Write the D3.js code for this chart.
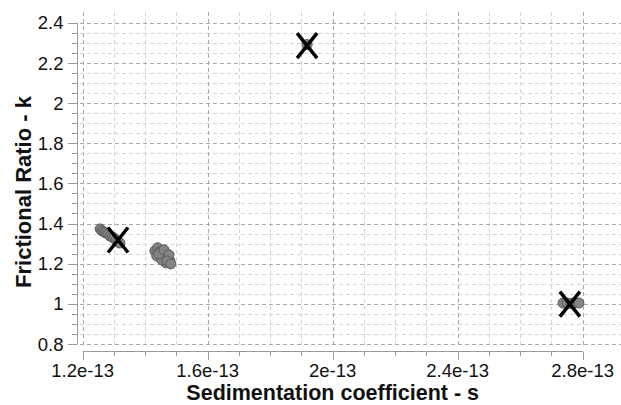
<!DOCTYPE html>
<html><head><meta charset="utf-8">
<script src="https://cdn.jsdelivr.net/npm/d3@7"></script>
<style>body{margin:0;background:#fff;} svg{display:block;}</style>
</head><body>
<script>
// Data (s in 1e-13 units, k = frictional ratio)
const pointS = [1.256,1.262,1.268,1.274,1.281,1.287,1.294,1.300,1.307,1.313,1.319,
                1.431,1.440,1.447,1.437,1.453,1.463,1.472,1.479,1.466,1.453,1.444,1.460,1.476,1.470,1.482,
                1.918,
                2.737,2.750,2.762,2.775,2.788];
const pointK = [1.373,1.363,1.358,1.353,1.348,1.338,1.333,1.328,1.318,1.308,1.303,
                1.264,1.279,1.259,1.239,1.239,1.249,1.229,1.214,1.204,1.219,1.249,1.269,1.244,1.214,1.199,
                2.291,
                1.004,1.004,1.002,1.006,1.004];
const markerS = [1.313, 1.918, 2.759];
const markerK = [1.318, 2.286, 0.999];
const xTicks = [1.2e-13, 1.6e-13, 2.0e-13, 2.4e-13, 2.8e-13];
const xTickLabels = ["1.2e-13","1.6e-13","2e-13","2.4e-13","2.8e-13"];
const yTicks = [0.8, 1.0, 1.2, 1.4, 1.6, 1.8, 2.0, 2.2, 2.4];
const yTickLabels = ["0.8","1","1.2","1.4","1.6","1.8","2","2.2","2.4"];
const xTitle = "Sedimentation coefficient - s";
const yTitle = "Frictional Ratio - k";

const W = 621, H = 405;
const svg = d3.select("body").append("svg").attr("width", W).attr("height", H);

const x = d3.scaleLinear().domain([1.2e-13, 2.8e-13]).range([82.7, 582.7]);
const y = d3.scaleLinear().domain([0.8, 2.4]).range([344, 22.7]);

const xMinor = d3.range(0, 17).map(i => 1.2e-13 + i * 0.1e-13).filter(v => !xTicks.some(t => Math.abs(t - v) < 1e-16));
const yMinor = d3.range(0, 33).map(i => +(0.8 + i * 0.05).toFixed(2)).filter(v => !yTicks.some(t => Math.abs(t - v) < 1e-6));

const grid = svg.append("g");
grid.selectAll(".hm").data(yMinor).join("line")
  .attr("x1", 80).attr("x2", W).attr("y1", d => Math.round(y(d)) + 0.5).attr("y2", d => Math.round(y(d)) + 0.5)
  .attr("stroke", "#d4d4d4").attr("stroke-dasharray", "4,3");
grid.selectAll(".vm").data(xMinor).join("line")
  .attr("y1", 12).attr("y2", 348).attr("x1", d => Math.round(x(d)) + 0.5).attr("x2", d => Math.round(x(d)) + 0.5)
  .attr("stroke", "#d4d4d4").attr("stroke-dasharray", "4,3");
grid.selectAll(".hM").data(yTicks).join("line")
  .attr("x1", 80).attr("x2", W).attr("y1", d => Math.round(y(d)) + 0.5).attr("y2", d => Math.round(y(d)) + 0.5)
  .attr("stroke", "#a8a8a8").attr("stroke-dasharray", "4,3");
grid.selectAll(".vM").data(xTicks).join("line")
  .attr("y1", 12).attr("y2", 348).attr("x1", d => Math.round(x(d)) + 0.5).attr("x2", d => Math.round(x(d)) + 0.5)
  .attr("stroke", "#a8a8a8").attr("stroke-dasharray", "4,3");

const axisColor = "#9a9a9a";
const ax = svg.append("g");
ax.append("line").attr("x1", 77.5).attr("x2", 77.5).attr("y1", y(2.4)).attr("y2", y(0.8)).attr("stroke", axisColor);
ax.selectAll(".yt").data(yTicks).join("line")
  .attr("x1", 68).attr("x2", 77.5).attr("y1", d => Math.round(y(d)) + 0.5).attr("y2", d => Math.round(y(d)) + 0.5).attr("stroke", axisColor);
ax.selectAll(".ytm").data(yMinor).join("line")
  .attr("x1", 72).attr("x2", 77.5).attr("y1", d => Math.round(y(d)) + 0.5).attr("y2", d => Math.round(y(d)) + 0.5).attr("stroke", axisColor);
ax.append("line").attr("x1", x(1.2e-13)).attr("x2", x(2.8e-13)).attr("y1", 351.5).attr("y2", 351.5).attr("stroke", axisColor);
ax.selectAll(".xt").data(xTicks).join("line")
  .attr("y1", 351.5).attr("y2", 360).attr("x1", d => Math.round(x(d)) + 0.5).attr("x2", d => Math.round(x(d)) + 0.5).attr("stroke", axisColor);
ax.selectAll(".xtm").data(xMinor).join("line")
  .attr("y1", 351.5).attr("y2", 356).attr("x1", d => Math.round(x(d)) + 0.5).attr("x2", d => Math.round(x(d)) + 0.5).attr("stroke", axisColor);

const font = "Liberation Sans, Arial, sans-serif";
ax.selectAll(".yl").data(yTicks).join("text")
  .attr("x", 63.5).attr("y", d => y(d)).attr("dy", "0.36em").attr("text-anchor", "end")
  .attr("font-family", font).attr("font-size", 18.5).attr("fill", "#111")
  .text((d, i) => yTickLabels[i]);
ax.selectAll(".xl").data(xTicks).join("text")
  .attr("x", d => x(d)).attr("y", 376.5).attr("text-anchor", "middle")
  .attr("font-family", font).attr("font-size", 18.5).attr("fill", "#111")
  .text((d, i) => xTickLabels[i]);

svg.append("text").attr("x", x(2.0e-13)).attr("y", 400).attr("text-anchor", "middle")
  .attr("font-family", font).attr("font-size", 21.5).attr("font-weight", "bold").attr("fill", "#111")
  .text(xTitle);
svg.append("text").attr("transform", "translate(31,192) rotate(-90)").attr("text-anchor", "middle")
  .attr("font-family", font).attr("font-size", 22).attr("font-weight", "bold").attr("fill", "#111")
  .text(yTitle);

const pts = pointS.map((s, i) => ({s: s * 1e-13, k: pointK[i]}));
svg.append("g").selectAll("circle").data(pts).join("circle")
  .attr("cx", d => x(d.s)).attr("cy", d => y(d.k)).attr("r", 5)
  .attr("fill", "#848484").attr("stroke", "#5a5a5a").attr("stroke-width", 1);

const mk = markerS.map((s, i) => ({s: s * 1e-13, k: markerK[i]}));
const mg = svg.append("g").selectAll("g").data(mk).join("g")
  .attr("transform", d => `translate(${x(d.s)},${y(d.k)})`);
mg.append("line").attr("x1", -10).attr("y1", -12.5).attr("x2", 10).attr("y2", 12.5).attr("stroke", "#000").attr("stroke-width", 3.5);
mg.append("line").attr("x1", 10).attr("y1", -12.5).attr("x2", -10).attr("y2", 12.5).attr("stroke", "#000").attr("stroke-width", 3.5);
</script>
</body></html>
